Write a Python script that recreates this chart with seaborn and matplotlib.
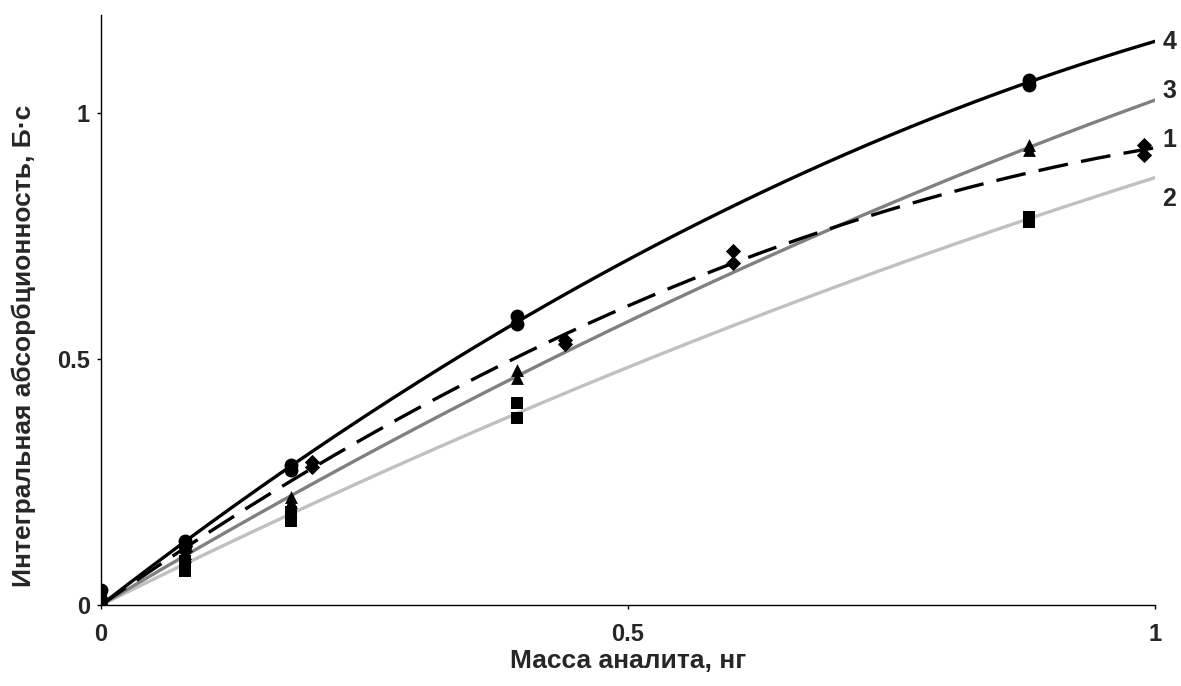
import numpy as np
import pandas as pd
import matplotlib
matplotlib.use("Agg")
import matplotlib.pyplot as plt
import seaborn as sns

# Replicate measurements (two per mass) for each calibration series
mass_a = [0, 0, 0.08, 0.08, 0.18, 0.18, 0.395, 0.395, 0.88, 0.88]
mass_b = [0, 0, 0.08, 0.08, 0.2, 0.2, 0.44, 0.44, 0.6, 0.6, 0.99, 0.99]

abs_1 = [0.01, 0.0, 0.12, 0.11, 0.29, 0.28, 0.54, 0.53, 0.72, 0.695, 0.935, 0.915]
abs_2 = [0.01, 0.0, 0.09, 0.07, 0.19, 0.17, 0.41, 0.38, 0.79, 0.78]
abs_3 = [0.0, 0.0, 0.105, 0.10, 0.22, 0.21, 0.478, 0.462, 0.935, 0.925]
abs_4 = [0.03, 0.01, 0.13, 0.12, 0.285, 0.275, 0.587, 0.572, 1.068, 1.058]

series_names = ["1", "2", "3", "4"]
x_ticks = [0, 0.5, 1]
x_tick_labels = ["0", "0.5", "1"]
y_ticks = [0, 0.5, 1]
y_tick_labels = ["0", "0.5", "1"]

series = {
    "1": (mass_b, abs_1),
    "2": (mass_a, abs_2),
    "3": (mass_a, abs_3),
    "4": (mass_a, abs_4),
}

# trend line style and curve-number label height
style = {
    "1": dict(color="black", marker="D", ms=60, dashes=(9, 4), label_y=0.945),
    "2": dict(color="#c0c0c0", marker="s", ms=75, dashes=None, label_y=0.825),
    "3": dict(color="#808080", marker="^", ms=85, dashes=None, label_y=1.045),
    "4": dict(color="black", marker="o", ms=100, dashes=None, label_y=1.145),
}

sns.set_theme(style="white")
plt.rcParams["font.family"] = ["Liberation Sans", "DejaVu Sans"]

fig = plt.figure(figsize=(11.81, 6.86), dpi=100)
ax = fig.add_axes([0.0855, 0.118, 0.8925, 0.86])


def fit_through_origin(xs, ys):
    """Least-squares y = a*x + b*x**2 (quadratic trend with zero intercept)."""
    x = np.asarray(xs, float)
    A = np.column_stack([x, x ** 2])
    coef, *_ = np.linalg.lstsq(A, np.asarray(ys, float), rcond=None)
    return coef


grid = np.linspace(0, 1, 200)
rows_pts = []
rows_fit = []
for name in series_names:
    xs, ys = series[name]
    for x, y in zip(xs, ys):
        rows_pts.append({"series": name, "mass": x, "abs": y})
    a, b = fit_through_origin(xs, ys)
    for g in grid:
        rows_fit.append({"series": name, "mass": g, "abs": a * g + b * g * g})
pts = pd.DataFrame(rows_pts)
fit = pd.DataFrame(rows_fit)

draw_order = ["2", "3", "1", "4"]
for name in draw_order:
    st = style[name]
    d = fit[fit["series"] == name]
    sns.lineplot(data=d, x="mass", y="abs", ax=ax, lw=2.4, color=st["color"])
    if st["dashes"] is not None:
        ax.lines[-1].set_dashes(st["dashes"])
    p = pts[pts["series"] == name]
    sns.scatterplot(data=p, x="mass", y="abs", ax=ax, marker=st["marker"],
                    s=st["ms"], color="black", edgecolor="black", linewidth=0,
                    zorder=5)

    # series number to the right of each curve
    ax.text(1.007, st["label_y"], name, fontsize=18, fontweight="bold",
            va="center", ha="left", clip_on=False)

ax.set_xlim(0, 1)
ax.set_ylim(0, 1.2)
ax.set_xticks(x_ticks, x_tick_labels)
ax.set_yticks(y_ticks, y_tick_labels)
for lab in ax.get_xticklabels() + ax.get_yticklabels():
    lab.set_fontweight("bold")
    lab.set_fontsize(17)
ax.tick_params(axis="both", direction="out", length=3, width=1, color="black",
               bottom=True, left=True)
ax.tick_params(axis="x", pad=10)
ax.tick_params(axis="y", pad=5)
for side in ("top", "right"):
    ax.spines[side].set_visible(False)
for side in ("left", "bottom"):
    ax.spines[side].set_color("black")
    ax.spines[side].set_linewidth(1.0)

ax.set_xlabel("Масса аналита, нг", fontsize=19, fontweight="bold")
ax.set_ylabel("Интегральная абсорбционность, Б·с", fontsize=19, fontweight="bold")
ax.xaxis.set_label_coords(0.5, -0.075)
ax.yaxis.set_label_coords(-0.062, 0.44)

fig.savefig("out.png", dpi=100, facecolor="white")
